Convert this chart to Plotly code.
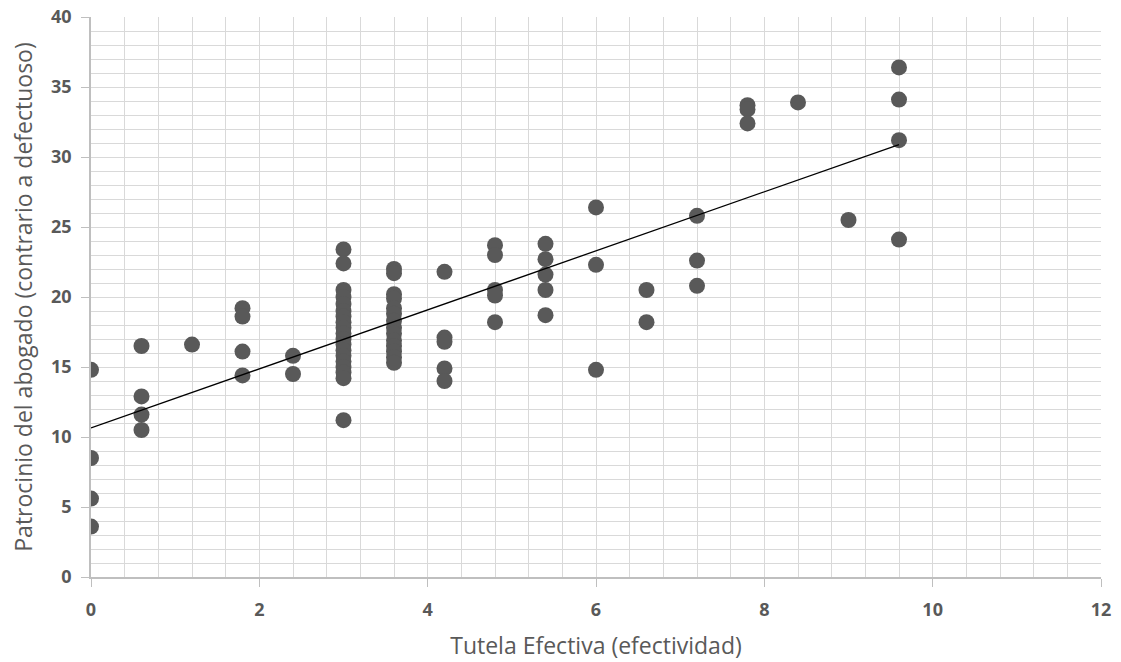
import numpy as np
import plotly.graph_objects as go

# Tutela Efectiva (x) grouped by level, with the Patrocinio scores observed at each level
x_levels = [0.0, 0.6, 1.2, 1.8, 2.4, 3.0, 3.6, 4.2, 4.8, 5.4, 6.0, 6.6, 7.2, 7.8, 8.4, 9.0, 9.6]
y_groups = [
    [14.8, 8.5, 5.6, 3.6],
    [16.5, 12.9, 11.6, 10.5],
    [16.6],
    [19.2, 18.6, 16.1, 14.4],
    [15.8, 14.5],
    [23.4, 22.4, 20.5, 20.0, 19.5, 19.0, 18.6, 18.2, 17.8, 17.4, 17.0, 16.6,
     16.2, 15.8, 15.4, 15.0, 14.6, 14.2, 11.2],
    [22.0, 21.7, 20.2, 19.9, 19.2, 18.8, 18.3, 17.8, 17.4, 16.9, 16.5, 16.1,
     15.7, 15.3],
    [21.8, 17.1, 16.8, 14.9, 14.0],
    [23.7, 23.0, 20.5, 20.1, 18.2],
    [23.8, 22.7, 21.6, 20.5, 18.7],
    [26.4, 22.3, 14.8],
    [20.5, 18.2],
    [25.8, 22.6, 20.8],
    [33.7, 33.4, 32.4],
    [33.9],
    [25.5],
    [36.4, 34.1, 31.2, 24.1],
]

x_vals = np.array([xl for xl, ys in zip(x_levels, y_groups) for _ in ys])
y_vals = np.array([y for ys in y_groups for y in ys])

# Least-squares linear trend over the observed range
slope, intercept = np.polyfit(x_vals, y_vals, 1)
trend_x = np.array([x_vals.min(), x_vals.max()])
trend_y = intercept + slope * trend_x

text_col = "#595959"
grid_col = "#d9d9d9"
axis_col = "#bfbfbf"

fig = go.Figure()
fig.add_trace(go.Scatter(
    x=x_vals, y=y_vals, mode="markers",
    marker=dict(size=16, color="#595959", line=dict(width=0)),
    showlegend=False, hoverinfo="x+y",
))
fig.add_trace(go.Scatter(
    x=trend_x, y=trend_y, mode="lines",
    line=dict(color="black", width=1.3),
    showlegend=False, hoverinfo="skip",
))

fig.update_layout(
    width=1121, height=662,
    margin=dict(l=91, r=20, t=17, b=85),
    paper_bgcolor="white", plot_bgcolor="white",
    font=dict(family="Open Sans", color=text_col),
)
fig.update_xaxes(
    range=[0, 12], dtick=2, tick0=0, automargin=False,
    showgrid=True, gridcolor=grid_col, gridwidth=1,
    minor=dict(dtick=0.4, tick0=0, showgrid=True, gridcolor=grid_col, gridwidth=1, ticks=""),
    showline=True, linecolor=axis_col, linewidth=1.5,
    ticks="outside", ticklen=8, tickcolor=axis_col,
    ticklabelstandoff=8,
    zeroline=False,
    tickfont=dict(family="Open Sans", size=18, color=text_col, weight="bold"),
    title=dict(text="Tutela Efectiva (efectividad)", font=dict(size=23, color=text_col), standoff=18),
)
fig.update_yaxes(
    range=[0, 40], dtick=5, tick0=0, automargin=False,
    showgrid=True, gridcolor=grid_col, gridwidth=1,
    minor=dict(dtick=1, tick0=0, showgrid=True, gridcolor=grid_col, gridwidth=1, ticks=""),
    showline=True, linecolor=axis_col, linewidth=1.5,
    ticks="outside", ticklen=8, tickcolor=axis_col,
    ticklabelstandoff=6,
    zeroline=False,
    tickfont=dict(family="Open Sans", size=18, color=text_col, weight="bold"),
    title=dict(text="Patrocinio del abogado (contrario a defectuoso)", font=dict(size=23, color=text_col), standoff=12),
)

fig.write_html("out.html")
